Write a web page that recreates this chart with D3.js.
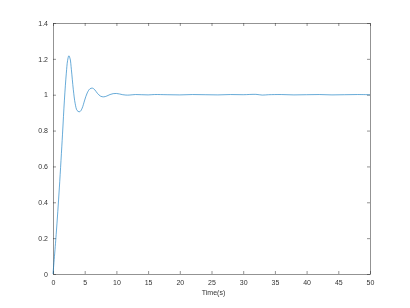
<!DOCTYPE html>
<html>
<head>
<meta charset="utf-8">
<script src="https://cdn.jsdelivr.net/npm/d3@7"></script>
<style>
  body { margin: 0; background: #fff; }
  svg { display: block; will-change: transform; opacity: 0.999; }
  .tick text { font-family: "Liberation Sans", Arial, sans-serif; font-size: 7px; fill: #333; }
  .axis-title { font-family: "Liberation Sans", Arial, sans-serif; font-size: 7px; fill: #333; }
</style>
</head>
<body>
<svg id="chart" width="410" height="308"></svg>
<script>
"use strict";

// step response
const times = [0, 0.5, 1.0, 1.5, 1.8, 2.1, 2.3, 2.5, 2.7, 2.9, 3.2, 3.5, 3.8, 4.1, 4.3, 4.6,
  5.0, 5.4, 5.8, 6.2, 6.6, 7.0, 7.5, 8.0, 8.5, 9.0, 9.5, 10.0, 10.5, 11, 11.5, 12, 13, 14,
  15, 16, 18, 20, 22, 24, 26, 28, 30, 32, 33, 34, 36, 38, 40, 42, 44, 46, 48, 50];
const values = [0, 0.22, 0.48, 0.78, 0.97, 1.12, 1.19, 1.217, 1.2, 1.14, 1.03, 0.95, 0.912, 0.905, 0.907, 0.925,
  0.97, 1.01, 1.032, 1.037, 1.027, 1.008, 0.992, 0.988, 0.993, 1.001, 1.006, 1.007, 1.004, 1.0, 0.998, 0.998, 1.001, 1.0,
  0.999, 1.001, 1.0, 0.999, 1.001, 1.0, 0.999, 1.001, 1.0, 1.002, 0.998, 1.0, 1.001, 0.999, 1.0, 1.001, 0.999, 1.0, 1.001, 1.0];

const xTicks = [0, 5, 10, 15, 20, 25, 30, 35, 40, 45, 50];
const yTicks = [0, 0.2, 0.4, 0.6, 0.8, 1, 1.2, 1.4];

const margins = {top: 23, right: 40, bottom: 34, left: 53};
const svgNode = document.getElementById("chart");
const width = 410 - margins.left - margins.right;
const height = 308 - margins.top - margins.bottom;

const svg = d3.select(svgNode)
              .append("g")
              .attr("transform", `translate(${margins.left}, ${margins.top})`);

const xScale = d3.scaleLinear().domain([0, 50]).range([0, width]);
const yScale = d3.scaleLinear().domain([0, 1.4]).range([height, 0]);

const axisColor = "#262626";
const tickLen = 3;

function styleAxis(g) {
  g.select(".domain").attr("stroke", axisColor).attr("stroke-width", 0.5);
  g.selectAll(".tick line").attr("stroke", axisColor).attr("stroke-width", 0.5);
}

// bottom + top
svg.append("g")
   .attr("transform", `translate(0, ${height})`)
   .call(d3.axisBottom(xScale).tickValues(xTicks).tickFormat(d3.format("d"))
           .tickSizeInner(-tickLen).tickSizeOuter(0).tickPadding(6))
   .call(styleAxis);

svg.append("g")
   .call(d3.axisTop(xScale).tickValues(xTicks).tickFormat("")
           .tickSizeInner(-tickLen).tickSizeOuter(0))
   .call(styleAxis);

// left + right
svg.append("g")
   .call(d3.axisLeft(yScale).tickValues(yTicks).tickFormat(d => d3.format("")(+d.toFixed(1)))
           .tickSizeInner(-tickLen).tickSizeOuter(0).tickPadding(5))
   .call(styleAxis);

svg.append("g")
   .attr("transform", `translate(${width}, 0)`)
   .call(d3.axisRight(yScale).tickValues(yTicks).tickFormat("")
           .tickSizeInner(-tickLen).tickSizeOuter(0))
   .call(styleAxis);

svg.append("text")
   .attr("class", "axis-title")
   .attr("text-anchor", "middle")
   .attr("x", width / 2 + 2)
   .attr("y", height + 21)
   .text("Time(s)");

const line = d3.line()
               .x((d, i) => xScale(times[i]))
               .y(d => yScale(d))
               .curve(d3.curveCatmullRom);

svg.append("path")
   .datum(values)
   .attr("fill", "none")
   .attr("stroke", "#0072BD")
   .attr("stroke-width", 0.6)
   .attr("d", line);
</script>
</body>
</html>
